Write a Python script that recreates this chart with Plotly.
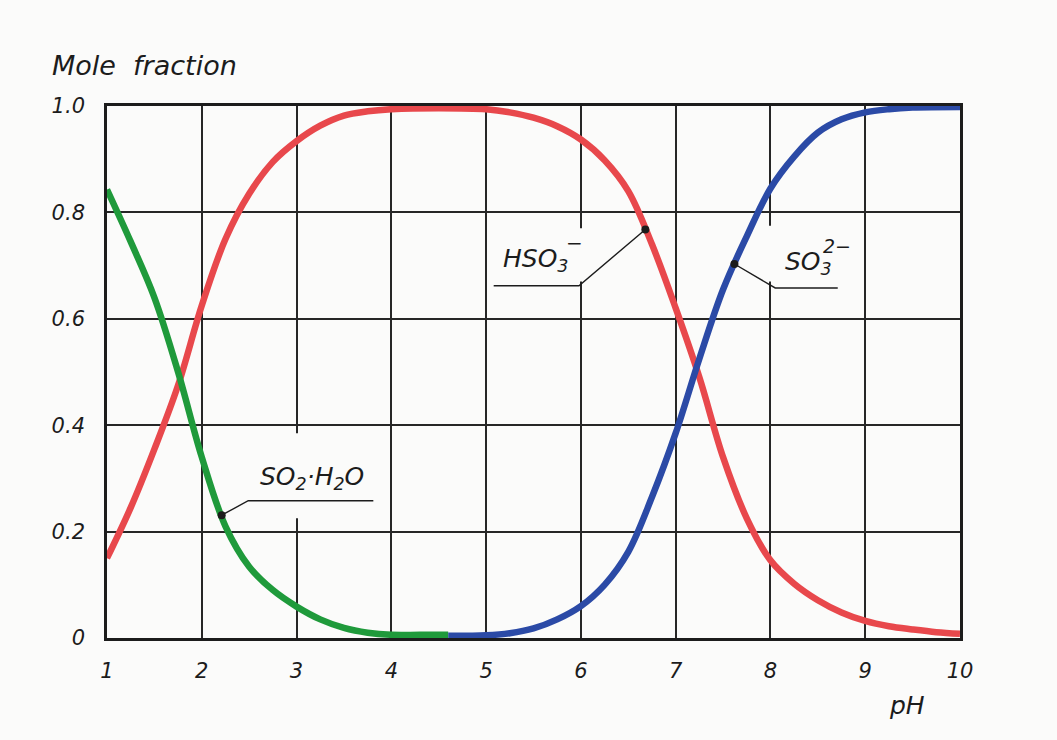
import numpy as np
import plotly.graph_objects as go

# Speciation of sulfurous acid versus pH (mole fractions)
ph_so2 = [1.0, 1.25, 1.5, 1.75, 2.0, 2.25, 2.5, 2.75, 3.0, 3.25, 3.5, 3.75,
          4.0, 4.3, 4.6]
frac_so2 = [0.843, 0.745, 0.64, 0.50, 0.34, 0.21, 0.134, 0.09, 0.059, 0.035,
            0.019, 0.010, 0.006, 0.006, 0.006]

ph_hso3 = [1.0, 1.25, 1.5, 1.75, 2.0, 2.25, 2.5, 2.75, 3.0, 3.25, 3.5, 3.75,
           4.0, 4.5, 5.0, 5.25, 5.5, 5.75, 6.0, 6.25, 6.5, 6.75, 7.0, 7.25,
           7.5, 7.75, 8.0, 8.25, 8.5, 8.75, 9.0, 9.25, 9.5, 9.75, 10.0]
frac_hso3 = [0.15, 0.245, 0.355, 0.475, 0.625, 0.75, 0.835, 0.895, 0.934,
             0.963, 0.982, 0.99, 0.994, 0.996, 0.994, 0.988, 0.978, 0.962,
             0.937, 0.898, 0.84, 0.74, 0.62, 0.49, 0.34, 0.225, 0.146, 0.102,
             0.071, 0.048, 0.032, 0.022, 0.016, 0.011, 0.008]

ph_so3 = [4.6, 5.0, 5.25, 5.5, 5.75, 6.0, 6.25, 6.5, 6.75, 7.0, 7.25, 7.5,
          7.75, 8.0, 8.25, 8.5, 8.75, 9.0, 9.25, 9.5, 10.0]
frac_so3 = [0.004, 0.005, 0.009, 0.018, 0.035, 0.06, 0.10, 0.162, 0.265, 0.385,
            0.525, 0.655, 0.755, 0.845, 0.905, 0.95, 0.975, 0.988, 0.994,
            0.997, 0.998]

x_ticks = [1, 2, 3, 4, 5, 6, 7, 8, 9, 10]
y_ticks = [0, 0.2, 0.4, 0.6, 0.8, 1.0]
y_tick_text = ["0", "0.2", "0.4", "0.6", "0.8", "1.0"]

PAPER = "#fbfbfa"
INK = "#1c1c1c"
GRID = "#262626"
RED = "#e8484c"
GREEN = "#1f9a3b"
BLUE = "#2b4aa6"
FONT = dict(family="DejaVu Sans", color=INK, style="italic")

fig = go.Figure()

for xs, ys, col in [(ph_hso3, frac_hso3, RED),
                    (ph_so2, frac_so2, GREEN),
                    (ph_so3, frac_so3, BLUE)]:
    fig.add_trace(go.Scatter(x=xs, y=ys, mode="lines",
                             line=dict(color=col, width=6.5, shape="spline",
                                       smoothing=1.0),
                             cliponaxis=False, hoverinfo="skip"))

# Leader lines: dot on the curve -> elbow -> underline beneath the label
leaders = [
    # (dot pH, curve x, curve y, elbow, underline end)
    (2.21, ph_so2, frac_so2, (2.49, 0.258), (3.81, 0.258)),
    (6.68, ph_hso3, frac_hso3, (5.98, 0.662), (5.08, 0.662)),
    (7.62, ph_so3, frac_so3, (8.05, 0.658), (8.71, 0.658)),
]
for px, cx, cy, elbow, end in leaders:
    py = float(np.interp(px, cx, cy))
    fig.add_trace(go.Scatter(x=[px, elbow[0], end[0]], y=[py, elbow[1], end[1]],
                             mode="lines", line=dict(color=INK, width=1.4),
                             hoverinfo="skip"))
    fig.add_trace(go.Scatter(x=[px], y=[py], mode="markers",
                             marker=dict(color=INK, size=8), hoverinfo="skip"))

# Label patches that interrupt the grid behind the species names
for x0, x1, y0, y1 in [(2.5, 3.85, 0.225, 0.385),
                       (5.06, 6.08, 0.67, 0.77),
                       (7.9, 8.75, 0.67, 0.775)]:
    fig.add_shape(type="rect", x0=x0, x1=x1, y0=y0, y1=y1, layer="between",
                  line=dict(width=0), fillcolor=PAPER)

label_font = dict(FONT, size=25)
fig.add_annotation(x=3.16, y=0.30, text="SO<sub>2</sub>·H<sub>2</sub>O",
                   showarrow=False, font=label_font)
fig.add_annotation(x=5.53, y=0.71, text="HSO<sub>3</sub>",
                   showarrow=False, font=label_font)
fig.add_annotation(x=5.93, y=0.742, text="−", showarrow=False,
                   font=dict(FONT, size=20))
fig.add_annotation(x=8.4, y=0.705, text="SO<sub>3</sub>",
                   showarrow=False, font=label_font)
fig.add_annotation(x=8.7, y=0.737, text="2−", showarrow=False,
                   font=dict(FONT, size=19))

# Axis titles, placed in pixels and converted to paper fractions below
W, H = 1057, 740
L, R, T, B = 107, 97, 106, 102


def px_to_paper(x, y):
    return (x - L) / (W - L - R), 1 - (y - T) / (H - T - B)


mx, my = px_to_paper(50, 66)
fig.add_annotation(x=mx, y=my, xref="paper", yref="paper", text="Mole  fraction",
                   showarrow=False, font=dict(FONT, size=27),
                   xanchor="left", yanchor="middle")
hx, hy = px_to_paper(907, 705)
fig.add_annotation(x=hx, y=hy, xref="paper", yref="paper", text="pH",
                   showarrow=False, font=dict(FONT, size=25),
                   xanchor="center", yanchor="middle")

fig.update_layout(
    width=W, height=H,
    margin=dict(l=L, r=R, t=T, b=B),
    paper_bgcolor=PAPER, plot_bgcolor=PAPER,
    showlegend=False,
    xaxis=dict(range=[1, 10], tickvals=x_ticks, showgrid=True,
               gridcolor=GRID, gridwidth=1.5, zeroline=False,
               showline=True, linecolor=INK, linewidth=2.6, mirror=True,
               ticks="", tickfont=dict(FONT, size=21), ticklabelstandoff=12),
    yaxis=dict(range=[0, 1], tickvals=y_ticks, ticktext=y_tick_text,
               showgrid=True, gridcolor=GRID, gridwidth=1.5,
               zeroline=False, showline=True, linecolor=INK, linewidth=2.6,
               mirror=True, ticks="", tickfont=dict(FONT, size=21),
               ticklabelstandoff=15),
)

fig.write_html("out.html")
